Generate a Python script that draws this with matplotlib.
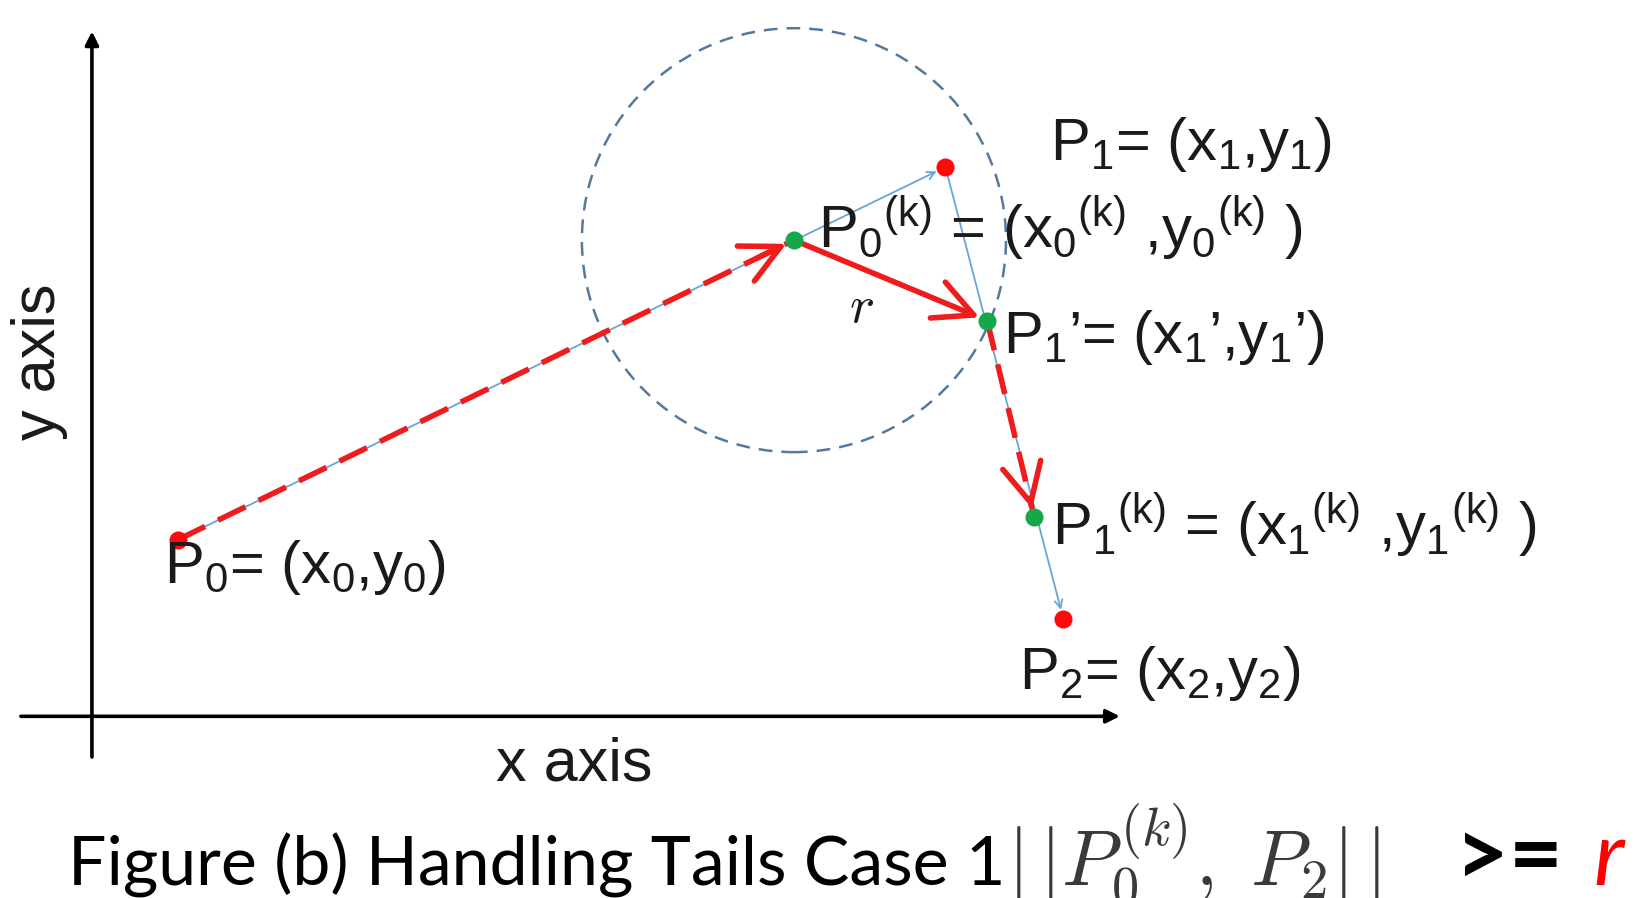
import matplotlib.pyplot as plt
import numpy as np
from matplotlib.patches import Circle

plt.rcParams["font.family"] = ["Liberation Sans", "DejaVu Sans"]
plt.rcParams["mathtext.fontset"] = "custom"
plt.rcParams["mathtext.rm"] = "Liberation Sans"
plt.rcParams["mathtext.it"] = "Liberation Sans"
plt.rcParams["mathtext.bf"] = "Liberation Sans:bold"

# points of the sketch (axis crossing is the origin)
point_names = ["P0", "P0k", "P1", "P1p", "P1k", "P2"]
point_x = [0.82, 6.72, 8.17, 8.57, 9.02, 9.30]
point_y = [1.69, 4.56, 5.26, 3.79, 1.91, 0.93]
radius = 2.03

# label of each point
point_labels = {
    "P0": r"P$_0$= (x$_0$,y$_0$)",
    "P0k": r"P$_0$$^{(k)}$ = (x$_0$$^{(k)}$ ,y$_0$$^{(k)}$ )",
    "P1": r"P$_1$= (x$_1$,y$_1$)",
    "P1p": r"P$_1$’= (x$_1$’,y$_1$’)",
    "P1k": r"P$_1$$^{(k)}$ = (x$_1$$^{(k)}$ ,y$_1$$^{(k)}$ )",
    "P2": r"P$_2$= (x$_2$,y$_2$)",
}
label_pos = {
    "P0": (0.69, 1.28),
    "P0k": (6.95, 4.48),
    "P1": (9.17, 5.33),
    "P1p": (8.72, 3.48),
    "P1k": (9.19, 1.64),
    "P2": (8.87, 0.26),
}

pts = {n: np.array([x, y]) for n, x, y in zip(point_names, point_x, point_y)}

red = "#ee1c1c"
dot_red = "#ff0a0a"
green = "#14a84a"
blue = "#6aa3d8"
circ_col = "#55789c"
txt_col = "#1a1a1a"

fig = plt.figure(figsize=(16.38, 8.98), dpi=100)
ax = fig.add_axes([0, 0, 1, 1])
ax.set_xlim(-0.88, 14.80)
ax.set_ylim(-1.74, 6.86)
ax.axis("off")

# axes of the sketch
ax.annotate("", xy=(0, 6.56), xytext=(0, -0.39),
            arrowprops=dict(arrowstyle="-|>", lw=2.6, color="black",
                            mutation_scale=20, shrinkA=0, shrinkB=0))
ax.annotate("", xy=(9.84, 0), xytext=(-0.68, 0),
            arrowprops=dict(arrowstyle="-|>", lw=2.6, color="black",
                            mutation_scale=20, shrinkA=0, shrinkB=0))
ax.text(-0.50, 3.40, "y axis", rotation=90, ha="center", va="center",
        fontsize=44, color=txt_col)
ax.text(4.62, -0.47, "x axis", ha="center", va="center",
        fontsize=44, color=txt_col)

# circle of radius r around P0(k)
ax.add_patch(Circle(pts["P0k"], radius, fill=False, ec=circ_col, lw=1.8,
                    ls=(0, (5.5, 3.6)), zorder=1))

# thin blue trajectory
for a, b in [("P0", "P1"), ("P1", "P2")]:
    ax.annotate("", xy=pts[b], xytext=pts[a],
                arrowprops=dict(arrowstyle="->", lw=1.3, color=blue,
                                mutation_scale=14, shrinkA=0, shrinkB=7),
                zorder=2)


# red steps
def red_arrow(a, b, dashed):
    p, q = pts[a], pts[b]
    if dashed:
        ax.plot([p[0], q[0]], [p[1], q[1]], color=red, lw=4,
                dashes=(5.5, 2.6), zorder=3)
        start = q - 0.06 * (q - p)
    else:
        start = p
    ax.annotate("", xy=q, xytext=start,
                arrowprops=dict(arrowstyle="->,head_length=1.0,head_width=0.5",
                                lw=4, color=red, mutation_scale=28,
                                shrinkA=0, shrinkB=6),
                zorder=3)


red_arrow("P0", "P0k", True)
red_arrow("P0k", "P1p", False)
red_arrow("P1p", "P1k", True)

ax.text(7.37, 3.91, r"$r$", math_fontfamily="cm", fontsize=38,
        color=txt_col, ha="center", va="center")

# dots
for n in ["P0", "P1", "P2"]:
    ax.plot(*pts[n], "o", ms=13, color=dot_red, mec="none", zorder=5)
for n in ["P0k", "P1p", "P1k"]:
    ax.plot(*pts[n], "o", ms=13, color=green, mec="none", zorder=5)

for n in point_names:
    x, y = label_pos[n]
    ax.text(x, y, point_labels[n], fontsize=43, color=txt_col,
            ha="left", va="baseline", zorder=6)

# caption
ax.text(-0.23, -1.62, "Figure (b) Handling Tails Case 1", family="Lato",
        fontsize=49, color="black", ha="left", va="baseline")
ax.text(8.76, -1.62, r"$|\,|P_0^{(k)},\;P_2|\,|$", math_fontfamily="cm",
        fontsize=56, color="#3a3a3a", ha="left", va="baseline")
ax.text(13.05, -1.62, ">=", family="Lato", weight="bold", fontsize=67,
        color="black", ha="left", va="baseline")
ax.text(14.37, -1.62, "r", family="Lato", style="italic", fontsize=64,
        color="#ff0000", ha="left", va="baseline")

fig.savefig("out.png", dpi=100)
